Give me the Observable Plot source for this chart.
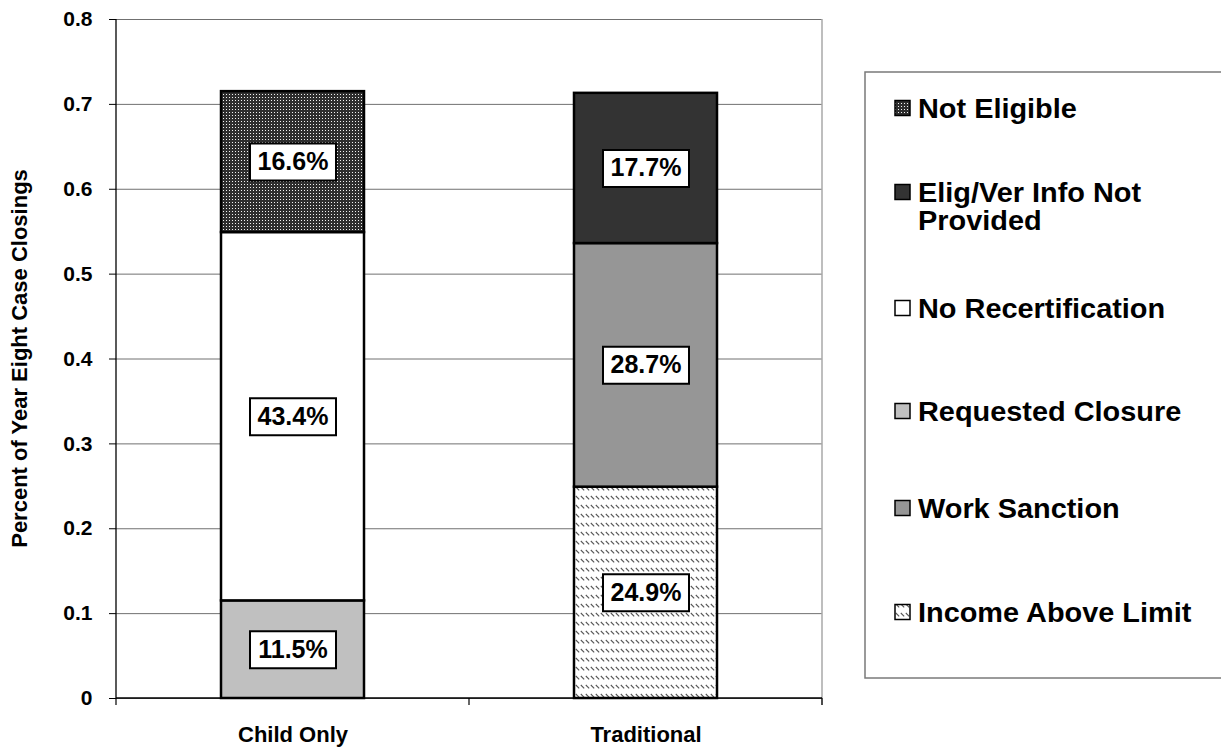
<!DOCTYPE html>
<html>
<head>
<meta charset="utf-8">
<script src="https://cdn.jsdelivr.net/npm/d3@7"></script>
<script src="https://cdn.jsdelivr.net/npm/@observablehq/plot@0.6"></script>
<style>
  html, body { margin: 0; padding: 0; background: #fff; }
  #chart svg { display: block; }
</style>
</head>
<body>
<div id="chart"></div>
<script>
// Case-closing reasons, share of all year-eight closings, by case type.
const groups = ["Child Only", "Traditional"];
// stacking order, bottom to top
const categories = [
  "Income Above Limit",
  "Work Sanction",
  "Requested Closure",
  "No Recertification",
  "Elig/Ver Info Not Provided",
  "Not Eligible"
];
const childOnlyShares   = [0,     0,     0.115, 0.434, 0,     0.166];
const traditionalShares = [0.249, 0.287, 0,     0,     0.177, 0];
const yTicks = [0, 0.1, 0.2, 0.3, 0.4, 0.5, 0.6, 0.7, 0.8];
const yTitle = "Percent of Year Eight Case Closings";
// legend entries, top to bottom, with their wrapped lines
const legendKeys = [
  "Not Eligible",
  "Elig/Ver Info Not Provided",
  "No Recertification",
  "Requested Closure",
  "Work Sanction",
  "Income Above Limit"
];
const legendLines = [
  ["Not Eligible"],
  ["Elig/Ver Info Not", "Provided"],
  ["No Recertification"],
  ["Requested Closure"],
  ["Work Sanction"],
  ["Income Above Limit"]
];

const shareSeries = [childOnlyShares, traditionalShares];
const rows = groups.flatMap((group, gi) =>
  categories.map((category, ci) => ({group, category, value: shareSeries[gi][ci]}))
).filter(d => d.value > 0);

// fills per category (patterns are defined in <defs> below)
const fillFor = {
  "Income Above Limit": "url(#hatch)",
  "Work Sanction": "#969696",
  "Requested Closure": "#c0c0c0",
  "No Recertification": "#ffffff",
  "Elig/Ver Info Not Provided": "#333333",
  "Not Eligible": "url(#dots)"
};

const FONT = "'Liberation Sans', Arial, Helvetica, sans-serif";

function patternDefs() {
  const defs = d3.create("svg:defs");
  const dots = defs.append("pattern").attr("id", "dots")
    .attr("patternUnits", "userSpaceOnUse").attr("width", 3).attr("height", 3);
  dots.append("rect").attr("width", 3).attr("height", 3).attr("fill", "#2e2e2e");
  dots.append("rect").attr("x", 1).attr("y", 1).attr("width", 1).attr("height", 1).attr("fill", "#f2f2f2");
  const hatch = defs.append("pattern").attr("id", "hatch")
    .attr("patternUnits", "userSpaceOnUse").attr("width", 5).attr("height", 9);
  hatch.append("rect").attr("width", 5).attr("height", 9).attr("fill", "#fff");
  hatch.append("path").attr("d", "M0.8,1L4.2,4.4").attr("stroke", "#555").attr("stroke-width", 1.1);
  return defs.node();
}

// axis lines, category boundary ticks, right border, y title
function chrome(index, scales, values, dims) {
  const {width, height, marginLeft, marginRight, marginTop, marginBottom} = dims;
  const left = marginLeft, right = width - marginRight;
  const top = marginTop, bottom = height - marginBottom;
  const g = d3.create("svg:g");
  g.append("line").attr("x1", right).attr("x2", right).attr("y1", top).attr("y2", bottom + 7)
    .attr("stroke", "#a8a8a8").attr("stroke-width", 1.5);
  g.append("line").attr("x1", left).attr("x2", left).attr("y1", top).attr("y2", bottom)
    .attr("stroke", "#000").attr("stroke-width", 1.3);
  g.append("line").attr("x1", left).attr("x2", right).attr("y1", bottom).attr("y2", bottom)
    .attr("stroke", "#000").attr("stroke-width", 1.3);
  const bw = scales.x && scales.x.bandwidth ? scales.x.bandwidth() : (right - left) / groups.length;
  const edges = [left, ...groups.map(d => (scales.x ? scales.x(d) : left) + bw)];
  for (const xe of edges) {
    g.append("line").attr("x1", xe).attr("x2", xe).attr("y1", bottom).attr("y2", bottom + 7)
      .attr("stroke", "#000").attr("stroke-width", 1.2);
  }
  g.append("text")
    .attr("transform", `translate(27,${(top + bottom) / 2}) rotate(-90)`)
    .attr("text-anchor", "middle")
    .attr("font-family", FONT).attr("font-weight", "bold").attr("font-size", 22)
    .attr("fill", "#000")
    .text(yTitle);
  return g.node();
}

function legend() {
  const g = d3.create("svg:g")
    .attr("font-family", FONT).attr("font-weight", "bold").attr("text-anchor", "start");
  g.append("rect").attr("x", 865).attr("y", 72).attr("width", 400).attr("height", 606)
    .attr("fill", "#fff").attr("stroke", "#7a7a7a").attr("stroke-width", 1.5);
  const centers = [108, 206, 308, 411, 508, 612];
  const lineGap = 28;
  legendKeys.forEach((key, i) => {
    const lines = legendLines[i];
    const firstY = centers[i] - (lines.length - 1) * lineGap / 2;
    g.append("rect").attr("x", 895).attr("y", firstY - 7.5).attr("width", 15).attr("height", 15)
      .attr("fill", fillFor[key]).attr("stroke", "#000").attr("stroke-width", 1.5);
    lines.forEach((line, j) => {
      g.append("text")
        .attr("transform", `translate(918,${firstY + j * lineGap}) scale(1.07,1)`)
        .attr("dy", "0.36em")
        .attr("text-anchor", "start")
        .attr("font-size", 27).attr("fill", "#000").text(line);
    });
  });
  return g.node();
}

// white label box around each segment value
const labelBox = {draw(context) { context.rect(-43, -18.5, 86, 37); }};

const chart = Plot.plot({
  width: 1221,
  height: 749,
  marginLeft: 116,
  marginRight: 399,
  marginTop: 19,
  marginBottom: 51,
  style: {fontFamily: FONT, background: "#fff", overflow: "visible", color: "#000"},
  x: {domain: groups, padding: 0},
  y: {domain: [0, 0.8]},
  color: {domain: categories, range: categories.map(c => fillFor[c])},
  marks: [
    patternDefs,
    Plot.ruleY(yTicks, {stroke: "#707070", strokeWidth: 1}),
    Plot.barY(rows, Plot.stackY({
      x: "group", y: "value", z: "category", fill: "category", order: categories,
      insetLeft: 105, insetRight: 105, stroke: "#000", strokeWidth: 2.5
    })),
    Plot.dot(rows, Plot.stackY({
      x: "group", y: "value", z: "category", order: categories,
      symbol: labelBox, r: 10, fill: "#fff", stroke: "#000", strokeWidth: 2
    })),
    Plot.text(rows, Plot.stackY({
      x: "group", y: "value", z: "category", order: categories,
      text: d => (d.value * 100).toFixed(1) + "%",
      fontSize: 25, fontWeight: "bold", fill: "#000"
    })),
    Plot.axisY({
      ticks: yTicks, tickSize: 7, tickPadding: 17, label: null,
      tickFormat: d => d === 0 ? "0" : d.toFixed(1),
      fontSize: 21, fontWeight: "bold", stroke: "#000"
    }),
    Plot.axisX({tickSize: 0, tickPadding: 28, label: null, fontSize: 22, fontWeight: "bold"}),
    chrome,
    legend
  ]
});

document.getElementById("chart").appendChild(chart);
</script>
</body>
</html>
